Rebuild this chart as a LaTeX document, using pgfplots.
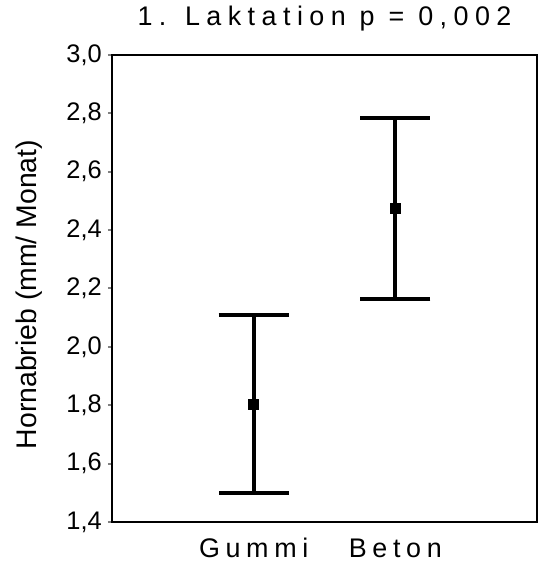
\documentclass[border=0pt]{standalone}
\usepackage{fontspec}
\setmainfont{Liberation Sans}
\newfontfamily\spaced[LetterSpace=24]{Liberation Sans}
\newfontfamily\spacedx[LetterSpace=21]{Liberation Sans}
\usepackage{pgfplots}
\pgfplotsset{compat=1.18}
\begin{document}
\begin{tikzpicture}
\begin{axis}[
  name=ax,
  width=425bp, height=467bp, scale only axis,
  xmin=0, xmax=3, ymin=1.4, ymax=3.0,
  axis line style={line width=1.3bp},
  xtick={1,2}, xticklabels={Gummi, Beton},
  xtick style={draw=none},
  xticklabel style={font=\spacedx\fontsize{27}{27}\selectfont, anchor=base, inner sep=0pt, yshift=-31bp},
  ytick={1.4,1.6,1.8,2.0,2.2,2.4,2.6,2.8,3.0},
  ytick pos=left, tick align=outside,
  major tick length=4bp,
  ytick style={line width=2bp},
  yticklabel style={font=\fontsize{25.5}{25.5}\selectfont, inner sep=0pt, xshift=-6bp,
    /pgf/number format/.cd, use comma, fixed, fixed zerofill, precision=1, assume math mode=true},
  title={1. Laktation p = 0,002},
  title style={font=\spaced\fontsize{27}{27}\selectfont, at={(axis description cs:0.5,1)}, anchor=base, inner sep=0pt, yshift=24bp},
  ylabel={Hornabrieb (mm/ Monat)},
  ylabel style={font=\fontsize{28.5}{28.5}\selectfont, at={([xshift=-75bp,yshift=-6bp]axis description cs:0,0.5)}, anchor=base, inner sep=0pt},
]
\addplot+[black, only marks, mark=square*, mark size=5bp, mark options={fill=black, draw=black},
  error bars/.cd, y dir=both, y explicit,
  error bar style={line width=4bp, black},
  error mark options={rotate=90, mark size=35bp, line width=4bp, black}]
  coordinates {(1,1.805) +- (0,0.305) (2,2.4755) +- (0,0.31)};
\end{axis}
\pgfresetboundingbox
\path ([shift={(-112bp,-41bp)}]ax.south west) rectangle ([shift={(1bp,55bp)}]ax.north east);
\end{tikzpicture}
\end{document}
